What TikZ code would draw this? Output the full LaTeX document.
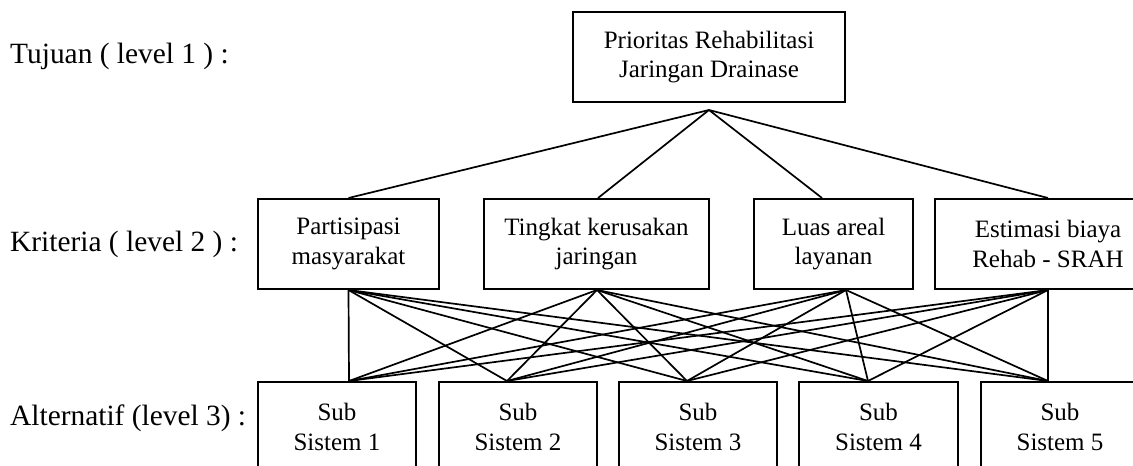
\documentclass[tikz,border=0pt]{standalone}
\usepackage{fontspec}
\setmainfont{Liberation Serif}
\usetikzlibrary{calc}
\begin{document}
\begin{tikzpicture}[x=1pt,y=-1pt,
  box/.style={draw, line width=2pt, align=center, inner sep=0pt,
    minimum height=90pt, font=\fontsize{25}{29.5}\selectfont},
  lvl/.style={anchor=base west, inner sep=0pt, font=\fontsize{29.4}{34}\selectfont},
  link/.style={line width=1.7pt}]
\useasboundingbox (0,0) rectangle (1133,466);
\clip (0,0) rectangle (1133,466);

% level labels
\node[lvl] (L1) at (10,63)  {Tujuan ( level 1 ) :};
\node[lvl] (L2) at (10,251) {Kriteria ( level 2 ) :};
\node[lvl] (L3) at (10,425) {Alternatif (level 3) :};

% goal
\node[box, minimum width=272pt] (G) at (709,57) {Prioritas Rehabilitasi\\Jaringan Drainase};
\coordinate (apex) at ($(G.south)+(0,7)$);

% criteria
\node[box, minimum width=181pt] (K1) at (348.5,244) {Partisipasi\\masyarakat};
\node[box, minimum width=225pt] (K2) at (596.5,244) {Tingkat kerusakan\\jaringan};
\node[box, minimum width=159pt] (K3) at (833.5,244) {Luas areal\\layanan};
\node[box, minimum width=226pt] (K4) at (1048,244) {Estimasi biaya\\Rehab - SRAH};

% alternatives
\node[box, minimum width=158pt] (A1) at (337,427)  {Sub\\Sistem 1};
\node[box, minimum width=158pt] (A2) at (518,427)  {Sub\\Sistem 2};
\node[box, minimum width=158pt] (A3) at (698,427)  {Sub\\Sistem 3};
\node[box, minimum width=159pt] (A4) at (878.5,427) {Sub\\Sistem 4};
\node[box, minimum width=158pt] (A5) at (1060,427) {Sub\\Sistem 5};

% attachment points
\coordinate (K1t) at (K1.north);
\coordinate (K2t) at ($(K2.north)+(1.5,0)$);
\coordinate (K3t) at ($(K3.north)+(-11.5,0)$);
\coordinate (K4t) at (K4.north);
\coordinate (K1b) at (K1.south);
\coordinate (K2b) at ($(K2.south)+(0.5,0)$);
\coordinate (K3b) at ($(K3.south)+(12.5,0)$);
\coordinate (K4b) at (K4.south);
\coordinate (A1t) at ($(A1.north)+(12,0)$);
\coordinate (A2t) at ($(A2.north)+(-11,0)$);
\coordinate (A3t) at ($(A3.north)+(-11,0)$);
\coordinate (A4t) at ($(A4.north)+(-10.5,0)$);
\coordinate (A5t) at ($(A5.north)+(-12,0)$);

% goal to criteria
\foreach \k in {1,...,4}
  \draw[link] (apex) -- (K\k t);

% criteria to alternatives
\foreach \k in {1,...,4}
  \foreach \a in {1,...,5}
    \draw[link] (K\k b) -- (A\a t);
\end{tikzpicture}
\end{document}
